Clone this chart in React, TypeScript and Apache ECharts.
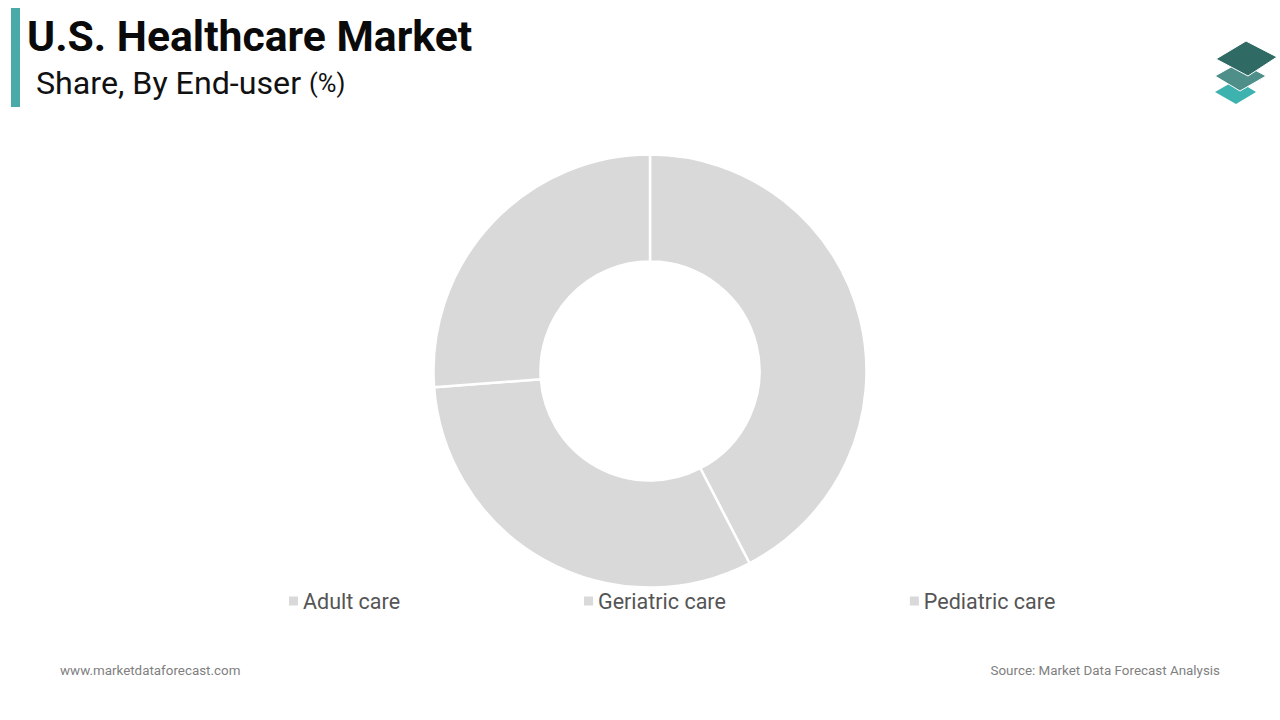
import React, { useEffect, useRef } from "react";
import * as echarts from "echarts";

const categories = ["Adult care", "Geriatric care", "Pediatric care"];
const shares = [42.4, 31.4, 26.2];
const sliceColor = "#d9d9d9";

export default function App() {
  const ref = useRef<HTMLDivElement>(null);
  useEffect(() => {
    const chart = echarts.init(ref.current!, null, { renderer: "svg" });
    chart.setOption({
      animation: false,
      backgroundColor: "#ffffff",
      legend: {
        data: categories,
        left: 284,
        top: 585,
        itemWidth: 9,
        itemHeight: 9,
        itemGap: 184,
        icon: "rect",
        itemStyle: { borderWidth: 0 },
        textStyle: { fontFamily: "Roboto", fontSize: 21.5, color: "#555555" },
      },
      series: [
        {
          type: "pie",
          center: [650, 371],
          radius: [109.5, 216.5],
          startAngle: 90,
          clockwise: true,
          label: { show: false },
          labelLine: { show: false },
          emphasis: { disabled: true },
          itemStyle: { color: sliceColor, borderColor: "#ffffff", borderWidth: 2.5 },
          data: categories.map((name, i) => ({ name, value: shares[i] })),
        },
      ],
      graphic: [
        { type: "rect", shape: { x: 11, y: 8, width: 9, height: 99 }, style: { fill: "#4aa9a9" } },
        {
          type: "text",
          x: 27,
          y: 36,
          style: {
            text: "U.S. Healthcare Market",
            font: "bold 42.7px Roboto",
            fill: "#0a0a0a",
            textVerticalAlign: "middle",
          },
        },
        {
          type: "text",
          x: 36,
          y: 83,
          style: {
            rich: {
              a: { fontFamily: "Roboto", fontSize: 32.2, fill: "#111111" },
              b: { fontFamily: "Roboto", fontSize: 25.5, fill: "#111111" },
            },
            text: "{a|Share, By End-user }{b|(%)}",
            textVerticalAlign: "middle",
          },
        },
        {
          type: "polygon",
          shape: { points: [[1215, 92], [1236, 80], [1256, 92], [1236, 104]] },
          style: { fill: "#3db2ae" },
        },
        {
          type: "polygon",
          shape: { points: [[1215, 76], [1240, 62], [1266, 76], [1240, 91]] },
          style: { fill: "#4f8f89", stroke: "#ffffff", lineWidth: 1 },
        },
        {
          type: "polygon",
          shape: { points: [[1216, 59], [1246, 41], [1277, 57], [1248, 76]] },
          style: { fill: "#2f6b64", stroke: "#ffffff", lineWidth: 1 },
        },
        {
          type: "text",
          x: 60,
          y: 670,
          style: {
            text: "www.marketdataforecast.com",
            font: "13.4px Roboto",
            fill: "#808080",
            textVerticalAlign: "middle",
          },
        },
        {
          type: "text",
          x: 1220,
          y: 670,
          style: {
            text: "Source: Market Data Forecast Analysis",
            font: "13.4px Roboto",
            fill: "#808080",
            textAlign: "right",
            textVerticalAlign: "middle",
          },
        },
      ],
    });
    return () => chart.dispose();
  }, []);
  return (
    <div
      ref={ref}
      style={{ position: "fixed", left: 0, top: 0, width: 1280, height: 720 }}
    />
  );
}
